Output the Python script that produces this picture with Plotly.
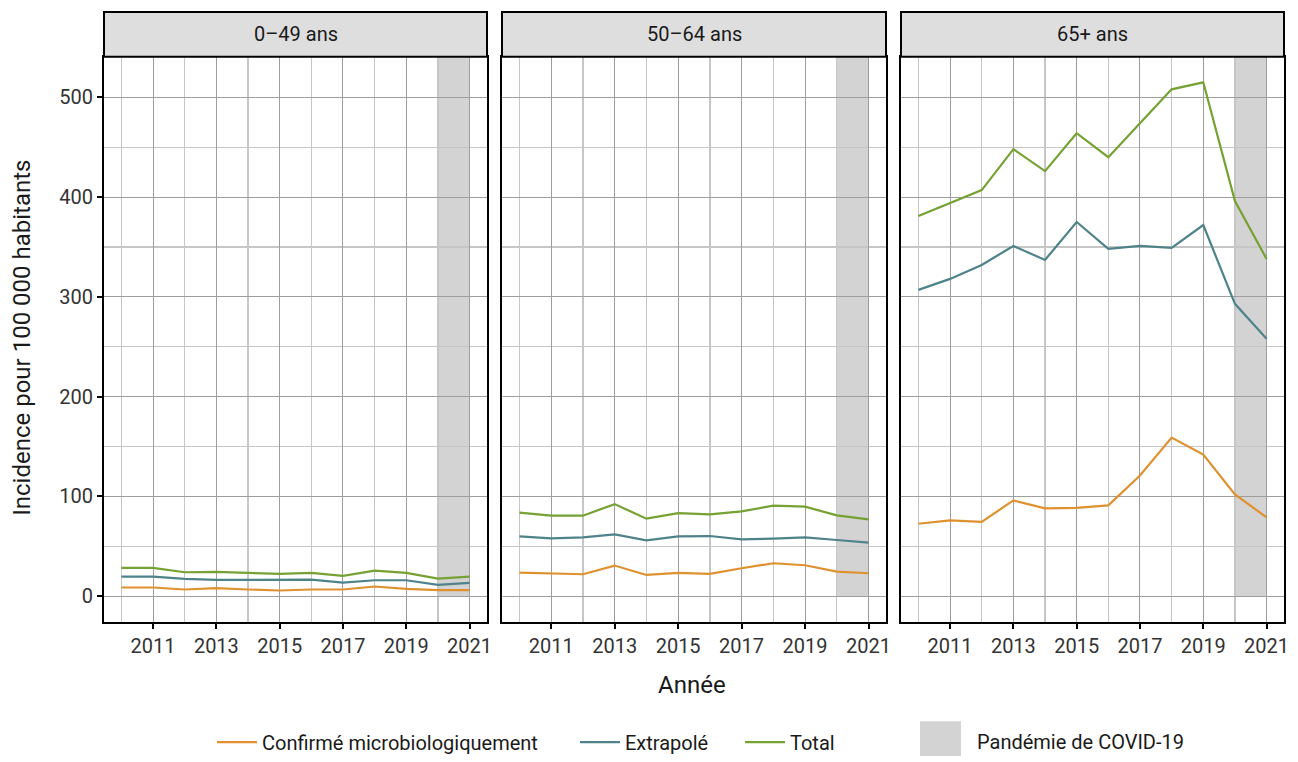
import plotly.graph_objects as go

years = list(range(2010, 2022))
panels = ["0–49 ans", "50–64 ans", "65+ ans"]
series_names = ["Confirmé microbiologiquement", "Extrapolé", "Total"]
series_colors = ["#E0912F", "#4F838A", "#76A133"]

confirme_0_49 = [8.7, 8.7, 6.7, 8.0, 6.7, 5.7, 6.7, 6.7, 9.7, 7.3, 6.0, 6.0]
extrapole_0_49 = [19.7, 19.7, 17.3, 16.3, 16.3, 16.3, 16.7, 13.7, 16.0, 16.0, 11.3, 13.3]
total_0_49 = [28.3, 28.3, 24.0, 24.3, 23.3, 22.3, 23.3, 20.3, 25.7, 23.3, 17.7, 19.7]

confirme_50_64 = [23.7, 22.7, 22.0, 30.7, 21.3, 23.3, 22.3, 28.0, 33.0, 31.0, 24.7, 23.0]
extrapole_50_64 = [60.0, 58.0, 59.0, 62.0, 56.0, 60.0, 60.3, 57.0, 57.7, 59.0, 56.3, 53.7]
total_50_64 = [83.7, 80.7, 80.7, 92.3, 77.7, 83.3, 82.0, 85.0, 90.7, 89.7, 81.0, 77.0]

confirme_65 = [72.6, 76.0, 74.5, 96.0, 88.0, 88.5, 91.0, 121.0, 159.0, 142.0, 102.0, 79.0]
extrapole_65 = [307, 318, 332, 351, 337, 375, 348, 351, 349, 372, 293, 258]
total_65 = [381, 394, 407, 448, 426, 464, 440, 474, 508, 515, 396, 338]

data = [
    [confirme_0_49, extrapole_0_49, total_0_49],
    [confirme_50_64, extrapole_50_64, total_50_64],
    [confirme_65, extrapole_65, total_65],
]

pandemic_start, pandemic_end = 2020, 2021
pandemic_label = "Pandémie de COVID-19"
x_ticks = [2011, 2013, 2015, 2017, 2019, 2021]
y_ticks = [0, 100, 200, 300, 400, 500]
y_minor = [50, 150, 250, 350, 450]
x_title = "Année"
y_title = "Incidence pour 100 000 habitants"

W, H = 1298, 762
FONT = "Roboto"
TXT = "#1a1a1a"


def px(p):
    return p / W


def py(p):
    return 1 - p / H


panel_px = [(104, 487), (502, 886), (901, 1284)]
ptop, pbot = 57, 626
strip_top = 12

all_vals = [v for p in data for s in p for v in s]
ymax = max(all_vals)
ymin = 0
ypad = 0.05 * (ymax - ymin)
yrange = [ymin - ypad, ymax + ypad]
xpad = 0.05 * (years[-1] - years[0])
xrange = [years[0] - xpad, years[-1] + xpad]

legend_x_px = [212, 575, 740]
legend_names = ["legend", "legend2", "legend3"]

fig = go.Figure()
shapes = []
annotations = []

for i, (x0p, x1p) in enumerate(panel_px):
    xa = "xaxis" if i == 0 else f"xaxis{i+1}"
    ya = "yaxis" if i == 0 else f"yaxis{i+1}"
    xr = "x" if i == 0 else f"x{i+1}"
    yr = "y" if i == 0 else f"y{i+1}"
    for j, name in enumerate(series_names):
        fig.add_trace(go.Scatter(
            x=years, y=data[i][j], mode="lines", name=name,
            line=dict(color=series_colors[j], width=2.2),
            showlegend=(i == 0), legend=legend_names[j], legendgroup=name,
            xaxis=xr, yaxis=yr, hoverinfo="skip"))
    fig.layout[xa] = dict(
        domain=[px(x0p), px(x1p)], range=xrange, anchor=yr, automargin=False,
        tickvals=x_ticks, ticks="outside", ticklen=5, tickwidth=2, tickcolor="black",
        showline=True, linecolor="black", linewidth=2, mirror=True,
        showgrid=True, gridcolor="#9e9e9e", gridwidth=1,
        minor=dict(showgrid=True, gridcolor="#c6c6c6", gridwidth=1.3,
                   tickvals=[y for y in years if y not in x_ticks]),
        tickfont=dict(family=FONT, size=20, color="#333333"), zeroline=False)
    fig.layout[ya] = dict(
        domain=[py(pbot), py(ptop)], range=yrange, anchor=xr, automargin=False,
        tickvals=y_ticks, ticks="outside" if i == 0 else "", ticklen=5, tickwidth=2,
        tickcolor="black", showticklabels=(i == 0),
        showline=True, linecolor="black", linewidth=2, mirror=True,
        showgrid=True, gridcolor="#9e9e9e", gridwidth=1,
        minor=dict(showgrid=True, gridcolor="#c6c6c6", gridwidth=1.3, tickvals=y_minor),
        tickfont=dict(family=FONT, size=20, color="#333333"), zeroline=False)
    shapes.append(dict(type="rect", xref=xr, yref=yr, x0=pandemic_start, x1=pandemic_end,
                       y0=0, y1=yrange[1], fillcolor="#D3D3D3", line=dict(width=0),
                       layer="below"))
    # strip
    shapes.append(dict(type="rect", xref="paper", yref="paper",
                       x0=px(x0p), x1=px(x1p), y0=py(ptop), y1=py(strip_top),
                       fillcolor="#DEDEDE", line=dict(color="black", width=2), layer="above"))
    annotations.append(dict(text=panels[i], xref="paper", yref="paper",
                            x=px((x0p + x1p) / 2), y=py((ptop + strip_top) / 2),
                            showarrow=False, xanchor="center", yanchor="middle",
                            font=dict(family=FONT, size=20, color="#1a1a1a")))

# pandemic legend key
shapes.append(dict(type="rect", xref="paper", yref="paper",
                   x0=px(920), x1=px(961), y0=py(761), y1=py(726),
                   fillcolor="#D3D3D3", line=dict(width=0)))
annotations.append(dict(text=pandemic_label, xref="paper", yref="paper", x=px(975), y=py(747),
                        showarrow=False, xanchor="left", yanchor="middle",
                        font=dict(family=FONT, size=20, color=TXT)))

annotations.append(dict(text=x_title, xref="paper", yref="paper", x=px(692), y=py(690),
                        showarrow=False, xanchor="center", yanchor="middle",
                        font=dict(family=FONT, size=24, color=TXT)))
annotations.append(dict(text=y_title, xref="paper", yref="paper", x=px(22), y=py(340),
                        showarrow=False, xanchor="center", yanchor="middle", textangle=-90,
                        font=dict(family=FONT, size=24, color=TXT)))

leg_common = dict(orientation="h", xanchor="left", y=py(747), yanchor="middle",
                  font=dict(family=FONT, size=20, color=TXT), itemwidth=40,
                  bgcolor="rgba(0,0,0,0)")
layout_legends = {}
for name, xp in zip(legend_names, legend_x_px):
    layout_legends[name] = dict(leg_common, x=px(xp))

fig.update_layout(
    width=W, height=H, margin=dict(l=0, r=0, t=0, b=0),
    paper_bgcolor="white", plot_bgcolor="white",
    shapes=shapes, annotations=annotations,
    showlegend=True, **layout_legends,
)

fig.write_html(
    "out.html",
    config={"displayModeBar": False, "staticPlot": True},
    post_script="document.body.style.margin='0';document.body.style.overflow='hidden';",
)
